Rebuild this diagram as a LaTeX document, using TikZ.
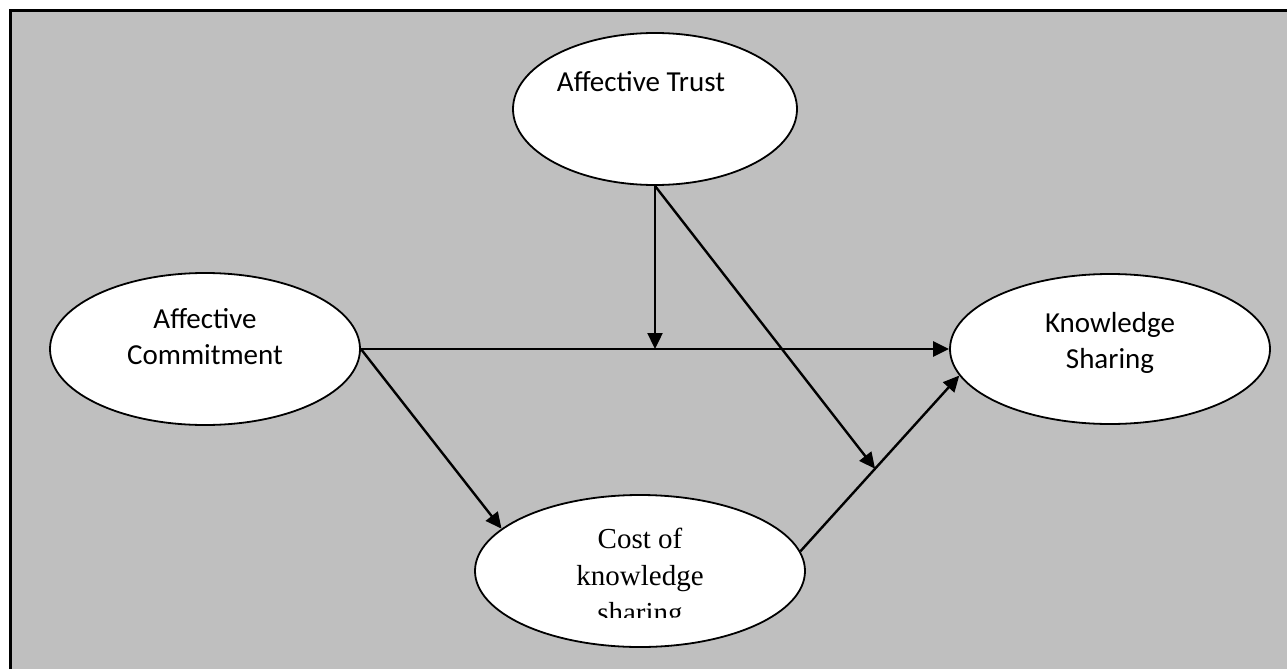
\documentclass[tikz,border=0pt]{standalone}
\usepackage{fontspec}
\setmainfont{Liberation Serif}
\newfontfamily\calfont{Carlito}
\usetikzlibrary{shapes.geometric,arrows.meta,calc}
\definecolor{bggray}{RGB}{191,191,191}
\begin{document}
\begin{tikzpicture}[x=1pt,y=-1pt,
  ell/.style={ellipse, draw=black, line width=1.8pt, fill=white, inner sep=0pt},
  arr/.style={line width=2.4pt, -{Triangle[length=16pt,width=15pt]}},
  lbl/.style={anchor=base, inner sep=0pt, font=\calfont\fontsize{29}{36}\selectfont},
  tlbl/.style={anchor=base, inner sep=0pt, font=\fontsize{29}{37}\selectfont}]
\useasboundingbox (0,0) rectangle (1287,669);
\fill[white] (0,0) rectangle (1287,669);
\fill[bggray] (10,11) rectangle (1287,669);
\draw[line width=3pt] (10,669) -- (10,11) -- (1287,11);

\node[ell, minimum width=284pt, minimum height=152pt] (AT) at (655,109) {};
\node[ell, minimum width=310pt, minimum height=152pt] (AC) at (205,349) {};
\node[ell, minimum width=320pt, minimum height=150pt] (KS) at (1110,349) {};
\node[ell, minimum width=330pt, minimum height=152pt] (CK) at (640,571) {};

\node[lbl] (tAT) at (641,92) {Affective Trust};
\node[lbl] (tAC1) at (205,328) {Affective};
\node[lbl] (tAC2) at (205,364) {Commitment};
\node[lbl] (tKS1) at (1110,332) {Knowledge};
\node[lbl] (tKS2) at (1110,368) {Sharing};
\node[tlbl] (tCK1) at (640,548) {Cost of};
\node[tlbl] (tCK2) at (640,585) {knowledge};
\begin{scope}
  \clip (400,590) rectangle (900,617);
  \node[tlbl] (tCK3) at (640,622) {sharing};
\end{scope}

\coordinate (m1) at (AT.south |- AC.east);
\coordinate (ckout) at (CK.7.6);
\coordinate (ksin) at (KS.190);
\coordinate (m2) at ($(ckout)!0.47!(ksin)$);

\draw[arr] (AC.east) -- (KS.west);
\draw[arr] (AT.south) -- (m1);
\draw[arr] (AT.south) -- (m2);
\draw[arr] (AC.east) -- (CK.163);
\draw[arr] (ckout) -- (ksin);
\end{tikzpicture}
\end{document}
